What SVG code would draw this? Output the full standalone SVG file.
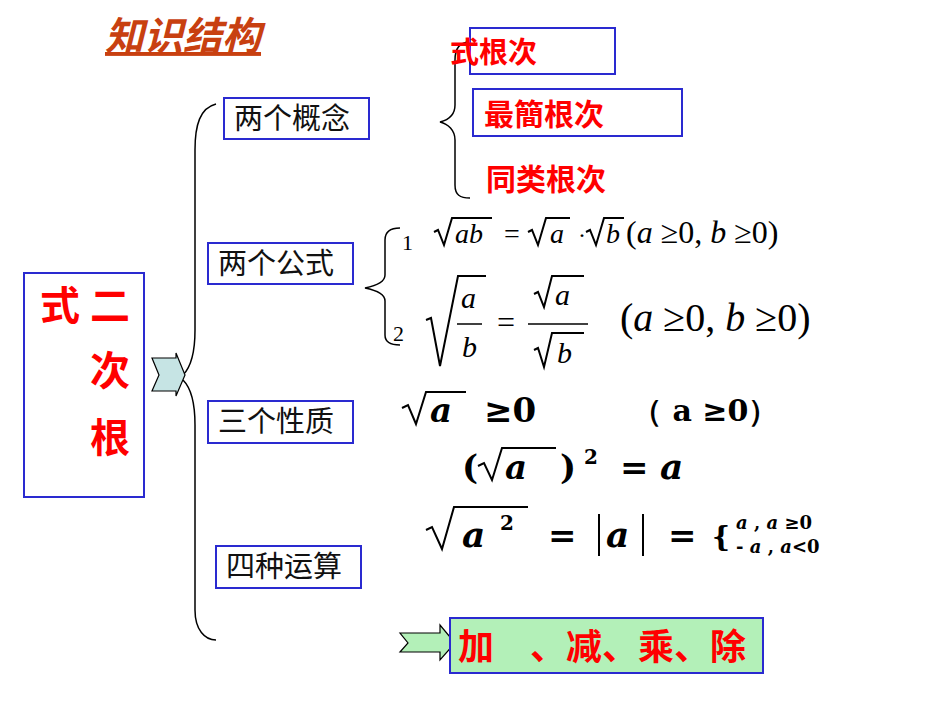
<svg xmlns="http://www.w3.org/2000/svg" width="950" height="713" viewBox="0 0 950 713">
<style>
.box{fill:#fff;stroke:#2a2ad0;stroke-width:2}
.lbl{font-family:"Noto Sans CJK SC","Noto Sans CJK JP",sans-serif;font-size:29px;fill:#111}
.red{font-family:"Noto Sans CJK SC",sans-serif;font-weight:bold;fill:#f00}
.m{font-family:"Liberation Serif",serif;fill:#000}
.ms{font-family:"DejaVu Serif",serif;font-weight:bold;fill:#000}
.ln{fill:none;stroke:#000;stroke-width:1.5}
.rad{fill:none;stroke:#000;stroke-width:2}
</style>
<rect width="950" height="713" fill="#fff"/>
<g id="title"><text x="105" y="50" font-family="Noto Sans CJK SC,sans-serif" font-size="39" font-style="italic" font-weight="bold" fill="#c84010" text-decoration="underline">知识结构</text></g>
<g id="connectors">
<path class="ln" d="M216,104 C200,108 195,125 195,150 L195,330 C195,355 190,368 183,375"/>
<path class="ln" d="M183,380 C190,387 195,400 195,425 L195,610 C195,630 205,640 216,640"/>
<path class="ln" d="M470,42 C458,42 455,50 455,60 L455,105 C455,115 448,120 440,122 C448,124 455,130 455,140 L455,185 C455,195 460,198 470,198"/>
<path class="ln" d="M400,228 C390,228 385,232 385,240 L385,275 C385,282 375,286 365,288 C375,290 385,294 385,301 L385,335 C385,342 390,345 400,345"/>
<path d="M152,358 L176,358 L176,353 L185,375 L176,396 L176,391 L152,391 L159,375 Z" fill="#c6e4e4" stroke="#000" stroke-width="1.2"/>
<path d="M400,633 L440,633 L440,625 L455,643 L440,660 L440,652 L400,652 L408,643 Z" fill="#b3f0b8" stroke="#000" stroke-width="1.2"/>
</g>
<g id="root"><rect class="box" x="24" y="273" width="120" height="224"/>
<text class="red" font-size="40" x="40" y="320">式</text><text class="red" font-size="40" x="90" y="320">二</text>
<text class="red" font-size="40" x="90" y="385">次</text><text class="red" font-size="40" x="90" y="452">根</text></g>
<g id="n1"><rect class="box" x="224" y="98" width="145" height="41"/><text class="lbl" x="234" y="129">两个概念</text></g>
<g id="n2"><rect class="box" x="208" y="243" width="145" height="41"/><text class="lbl" x="218" y="274">两个公式</text></g>
<g id="n3"><rect class="box" x="208" y="401" width="145" height="42"/><text class="lbl" x="218" y="432">三个性质</text></g>
<g id="n4"><rect class="box" x="216" y="546" width="145" height="42"/><text class="lbl" x="226" y="577">四种运算</text></g>
<g id="c1"><rect class="box" x="470" y="28" width="145" height="46"/><text class="red" font-size="29" x="450" y="63">式根次</text></g>
<g id="c2"><rect class="box" x="473" y="89" width="209" height="47"/><text class="red" font-size="30" x="484" y="125">最簡根次</text></g>
<g id="c3"><text class="red" font-size="30" x="486" y="190">同类根次</text></g>
<g id="f1">
<text class="m" x="402" y="250" font-size="22">1</text>
<path class="rad" d="M434,232 L438,230 L444,245 L452,218 L492,218"/>
<text class="m" x="455" y="243" font-size="28" font-style="italic">ab</text>
<text class="m" x="504" y="243" font-size="28">=</text>
<path class="rad" d="M528,232 L532,230 L538,245 L546,218 L570,218"/>
<text class="m" x="550" y="243" font-size="28" font-style="italic">a</text>
<text class="m" x="578" y="243" font-size="24">·</text>
<path class="rad" d="M586,232 L590,230 L596,245 L604,218 L624,218"/>
<text class="m" x="606" y="243" font-size="28" font-style="italic">b</text>
<text class="m" x="626" y="243" font-size="32">(<tspan font-style="italic">a</tspan> ≥0, <tspan font-style="italic">b</tspan> ≥0)</text>
</g>
<g id="f2">
<text class="m" x="393" y="341" font-size="22">2</text>
<path class="rad" d="M426,320 L431,318 L440,366 L458,276 L486,276"/>
<text class="m" x="461" y="308" font-size="30" font-style="italic">a</text>
<line x1="457" y1="324" x2="482" y2="324" stroke="#000" stroke-width="1.5"/>
<text class="m" x="462" y="357" font-size="30" font-style="italic">b</text>
<text class="m" x="497" y="333" font-size="32">=</text>
<path class="rad" d="M534,294 L538,292 L544,307 L552,276 L584,276"/>
<text class="m" x="555" y="305" font-size="30" font-style="italic">a</text>
<line x1="528" y1="324" x2="588" y2="324" stroke="#000" stroke-width="1.5"/>
<path class="rad" d="M534,350 L538,348 L544,367 L552,333 L584,333"/>
<text class="m" x="557" y="363" font-size="30" font-style="italic">b</text>
<text class="m" x="620" y="331" font-size="40">(<tspan font-style="italic">a</tspan> ≥0, <tspan font-style="italic">b</tspan> ≥0)</text>
</g>
<g id="f3">
<path class="rad" d="M402,408 L408,405 L416,424 L426,392 L466,392"/>
<text class="ms" x="430" y="422" font-size="34" font-style="italic">a</text>
<text class="ms" x="484" y="422" font-size="34">≥0</text>
<text class="ms" x="632" y="421" font-size="30" font-weight="normal">（ a ≥0）</text>
</g>
<g id="f4">
<text class="ms" x="462" y="479" font-size="34">(</text>
<path class="rad" d="M478,466 L484,463 L492,480 L502,448 L556,448"/>
<text class="ms" x="505" y="479" font-size="34" font-style="italic">a</text>
<text class="ms" x="560" y="479" font-size="34">)</text>
<text class="ms" x="584" y="464" font-size="20" font-weight="normal">2</text>
<text class="ms" x="620" y="479" font-size="34">=</text>
<text class="ms" x="660" y="479" font-size="36" font-style="italic">a</text>
</g>
<g id="f5">
<path class="rad" d="M426,530 L432,527 L442,549 L454,507 L528,507"/>
<text class="ms" x="462" y="547" font-size="36" font-style="italic">a</text>
<text class="ms" x="500" y="530" font-size="20" font-weight="normal">2</text>
<text class="ms" x="548" y="547" font-size="34">=</text>
<line x1="599" y1="514" x2="599" y2="556" stroke="#000" stroke-width="2"/>
<text class="ms" x="606" y="547" font-size="36" font-style="italic">a</text>
<line x1="643" y1="514" x2="643" y2="556" stroke="#000" stroke-width="2"/>
<text class="ms" x="668" y="547" font-size="34">=</text>
<text class="ms" x="712" y="546" font-size="28" font-weight="normal">{</text>
<text class="ms" x="736" y="529" font-size="18" font-weight="normal"><tspan font-style="italic">a</tspan> , <tspan font-style="italic">a</tspan> ≥0</text>
<text class="ms" x="736" y="553" font-size="18" font-weight="normal">- <tspan font-style="italic">a</tspan> , <tspan font-style="italic">a</tspan>&lt;0</text>
</g>
<g id="ops"><rect x="450" y="618" width="313" height="55" fill="#b3f0b8" stroke="#2a2ad0" stroke-width="2"/>
<text class="red" font-size="36" x="458" y="660">加　、减、乘、除</text></g>
</svg>
